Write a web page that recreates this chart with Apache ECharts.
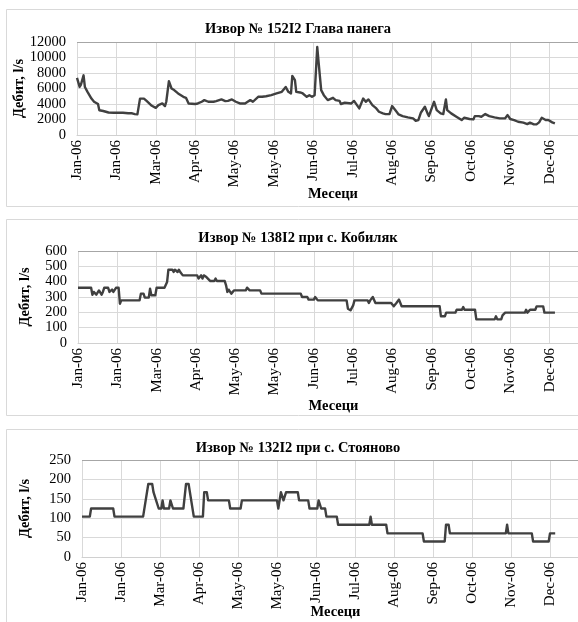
<!DOCTYPE html>
<html><head><meta charset="utf-8">
<script src="https://cdn.jsdelivr.net/npm/echarts@6/dist/echarts.min.js"></script>
<style>html,body{margin:0;padding:0;overflow:hidden;background:#fff}#c{width:596px;height:640px}</style>
</head><body><div id="c"></div>
<script>
const tickLabels = ['Jan-06','Jan-06','Mar-06','Apr-06','May-06','May-06','Jun-06','Jul-06','Aug-06','Sep-06','Oct-06','Nov-06','Dec-06'];
const titles = ['Извор № 152I2 Глава панега', 'Извор № 138I2 при с. Кобиляк', 'Извор № 132I2 при с. Стояново'];
const yAxisName = 'Дебит, l/s';
const xAxisName = 'Месеци';
const yMax = [12000, 600, 250];
const yStep = [2000, 100, 50];

// Panel 1: day of year, flow l/s
const days1 = [0,2,3,5,6,8,11,13,16,17,20,24,28,35,39,42,44,46,48,51,53,57,60,62,65,67,68,70,72,74,77,81,83,85,90,92,95,97,100,104,106,110,113,115,118,121,124,128,130,132,134,135,138,141,144,148,152,156,159,161,163,164,166,167,170,172,175,177,179,181,183,184,186,188,191,195,197,200,201,204,209,211,215,216,218,220,222,225,228,230,233,235,238,240,243,245,248,252,256,258,260,262,265,267,268,272,274,277,279,281,282,285,289,293,295,299,302,303,306,308,311,314,318,322,326,328,330,333,336,340,343,345,348,350,352,354,357,359,362,364];
const flow1 = [7370,6200,6500,7700,6200,5570,4700,4300,4000,3200,3100,2900,2870,2870,2800,2800,2700,2660,4700,4700,4400,3770,3500,3860,4070,3730,4290,6940,6000,5800,5360,4930,4800,4070,4000,4070,4290,4500,4290,4290,4370,4590,4370,4400,4590,4290,4070,4070,4290,4500,4290,4500,4930,4930,5000,5140,5360,5570,6200,5570,5360,7630,7070,5570,5490,5360,4930,5140,4930,5140,11350,9430,5790,5140,4500,4800,4500,4400,4000,4160,4070,4400,3430,3640,4710,4290,4590,3860,3430,3000,2790,2700,2700,3730,3090,2660,2440,2270,2140,1840,1930,2910,3640,2790,2440,4290,3210,2790,2700,4590,3210,2790,2360,1930,2230,2060,2010,2440,2440,2360,2700,2440,2270,2140,2140,2570,2060,1930,1710,1590,1410,1590,1370,1370,1630,2230,1930,1930,1630,1500];

// Panel 2
const days2 = [0,10,11,12,13,14,16,17,18,19,20,23,24,25,26,27,28,29,31,32,33,47,48,50,51,54,55,56,59,60,66,68,69,72,73,74,75,76,77,78,80,91,92,93,94,95,96,97,98,99,101,104,105,106,112,113,114,115,116,117,118,119,128,129,131,139,140,170,171,175,176,180,181,182,183,205,206,208,210,211,221,222,223,224,225,226,227,239,241,243,245,246,247,276,277,280,281,288,289,291,292,293,294,295,303,304,318,319,320,323,324,326,341,342,343,344,345,349,350,355,356,364];
const flow2 = [360,360,315,333,333,315,343,343,315,333,360,360,333,333,348,333,333,360,360,256,278,278,322,322,296,296,354,311,311,360,360,398,478,478,463,478,478,463,478,463,441,441,420,420,441,420,441,441,430,420,404,404,420,404,404,376,333,348,348,322,333,343,343,361,343,343,322,322,300,300,283,283,300,300,278,278,224,213,245,278,278,261,278,278,300,300,261,261,240,261,283,283,240,240,174,174,198,198,217,217,230,217,235,217,217,154,154,174,154,154,180,198,198,217,198,198,217,217,239,239,198,198];

// Panel 3
const days3 = [0,6,7,24,25,47,51,54,55,56,57,58,59,61,62,63,67,68,69,70,78,80,82,86,93,94,96,97,113,114,122,123,150,151,153,154,155,156,157,166,167,174,175,181,182,183,184,187,188,196,197,221,222,223,234,235,262,263,279,280,282,283,326,327,328,346,347,359,360,364];
const flow3 = [104,104,125,125,104,104,188,188,167,167,146,146,125,125,146,125,125,146,146,125,125,188,188,104,104,167,167,146,146,125,125,146,146,125,167,167,146,146,167,167,146,146,125,125,146,146,125,125,104,104,83,83,104,83,83,61,61,40,40,83,83,61,61,83,61,61,40,40,61,61];

const FONT = 'Liberation Serif';
const days = [days1, days2, days3];
const flows = [flow1, flow2, flow3];
const gridPos = [
  {left: 77, top: 42, width: 512, height: 93},
  {left: 78, top: 251, width: 511, height: 92},
  {left: 82, top: 460, width: 507, height: 97}
];
const titleTop = [17, 226, 436];
const yNameGap = [50, 45, 49];
const xNameGap = [52, 56, 48];
const boxes = [[6, 9, 584, 197], [6, 219, 584, 196], [6, 429, 584, 200]];

const chart = echarts.init(document.getElementById('c'), null, {renderer: 'canvas'});
const option = {
  animation: false,
  backgroundColor: '#fff',
  graphic: boxes.map(b => ({type: 'rect', silent: true, z: -1,
    shape: {x: b[0] + 0.5, y: b[1] + 0.5, width: b[2], height: b[3]},
    style: {fill: 'none', stroke: '#d9d9d9', lineWidth: 1}})),
  title: titles.map((t, i) => ({text: t, left: 'center', top: titleTop[i],
    textStyle: {fontFamily: FONT, fontWeight: 'bold', fontSize: 14.5, color: '#000'}})),
  grid: gridPos.map(g => Object.assign({containLabel: false}, g)),
  xAxis: [0, 1, 2].map(i => ({
    type: 'value', gridIndex: i, min: 0, max: 390, interval: 30,
    axisLabel: {rotate: 90, margin: 5, fontFamily: FONT, fontSize: 15, color: '#000',
      formatter: v => tickLabels[Math.round(v / 30)] || ''},
    axisTick: {show: false},
    axisLine: {lineStyle: {color: '#d0d0d0'}},
    splitLine: {show: true, lineStyle: {color: '#d9d9d9', width: 1}},
    name: xAxisName, nameLocation: 'middle', nameGap: xNameGap[i], nameMoveOverlap: false,
    nameTextStyle: {fontFamily: FONT, fontWeight: 'bold', fontSize: 14.5, color: '#000'}
  })),
  yAxis: [0, 1, 2].map(i => ({
    type: 'value', gridIndex: i, min: 0, max: yMax[i], interval: yStep[i],
    axisLabel: {margin: 11, fontFamily: FONT, fontSize: 14.5, color: '#000',
      formatter: v => String(v)},
    axisTick: {show: false},
    axisLine: {show: false},
    splitLine: {show: true, lineStyle: {color: '#d9d9d9', width: 1}},
    name: yAxisName, nameLocation: 'middle', nameRotate: 90, nameGap: yNameGap[i], nameMoveOverlap: false,
    nameTextStyle: {fontFamily: FONT, fontWeight: 'bold', fontSize: 14.5, color: '#000'}
  })),
  series: [0, 1, 2].map(i => ({
    type: 'line', xAxisIndex: i, yAxisIndex: i,
    data: days[i].map((d, k) => [d, flows[i][k]]),
    showSymbol: false, symbol: 'none',
    lineStyle: {color: '#404040', width: 2.4, join: 'round'},
    markLine: {silent: true, symbol: 'none', label: {show: false},
      lineStyle: {color: '#a6a6a6', type: 'solid', width: 1},
      data: [{yAxis: yMax[i]}]}
  }))
};
chart.setOption(option);
</script>
</body></html>
